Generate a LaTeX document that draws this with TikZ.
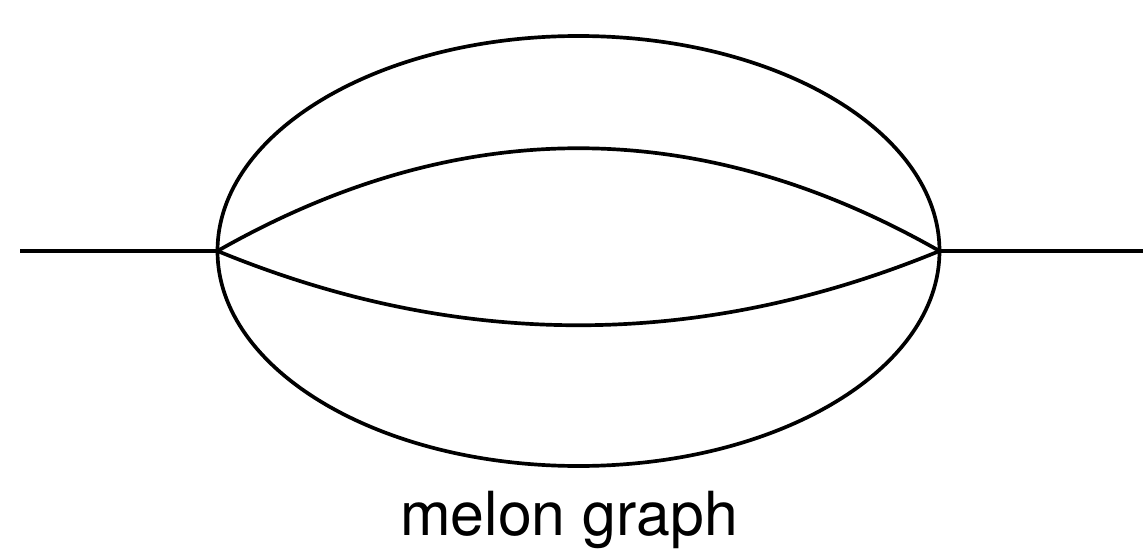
\documentclass[tikz,border=0pt]{standalone}
\usepackage{fontspec}
\setmainfont{TeX Gyre Heros}
\usetikzlibrary{positioning}

\begin{document}
\begin{tikzpicture}[x=0.02cm, y=-0.02cm, line width=2.1pt]
		\useasboundingbox (0,0) rectangle (1143,554);
		\coordinate (Left) at (217.5, 251);
		\coordinate (Right) at (939.5, 251);
		\coordinate (LeftEnd) at (20, 251);
		\coordinate (RightEnd) at (1143, 251);
		\draw (578.5, 251) ellipse [x radius=361, y radius=215];
		\draw (LeftEnd) -- (Left);
		\draw (Right) -- (RightEnd);
		% quadratic arcs written as cubic (controls at 2/3)
		\draw (Left) .. controls (458, 114) and (699, 114) .. (Right);
		\draw (Left) .. controls (458, 350) and (699, 350) .. (Right);
		\node[font=\fontsize{34.6}{40}\selectfont, anchor=base] (name) at (569, 535) {melon graph};
	\end{tikzpicture}
\end{document}
